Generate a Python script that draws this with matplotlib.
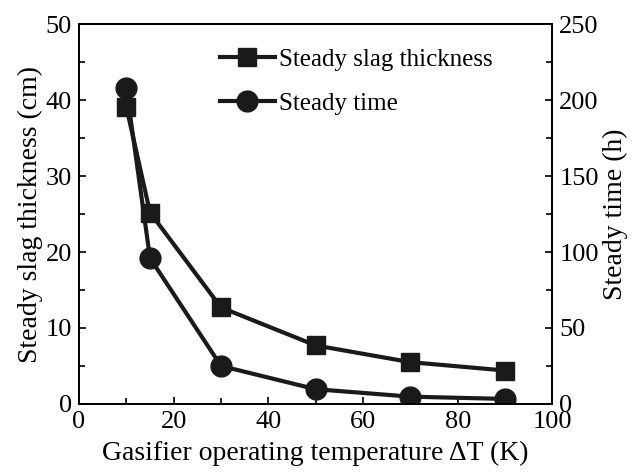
import numpy as np
import matplotlib.pyplot as plt
from matplotlib.ticker import MultipleLocator

plt.rcParams['font.family'] = ['Liberation Serif', 'DejaVu Serif']

# data
temp = [10, 15, 30, 50, 70, 90]
thickness = [39.1, 25.2, 12.7, 7.7, 5.5, 4.4]
steady_time = [208, 96, 25, 9.7, 4.8, 3.3]

fig, ax = plt.subplots(figsize=(6.32, 4.73), dpi=100)
ax2 = ax.twinx()

l1, = ax.plot(temp, thickness, color='#1a1a1a', lw=3, marker='s', ms=13,
              label='Steady slag thickness')
l2, = ax2.plot(temp, steady_time, color='#1a1a1a', lw=3, marker='o', ms=15,
               label='Steady time')

ax.set_xlim(0, 100)
ax.set_ylim(0, 50)
ax2.set_ylim(0, 250)
ax.xaxis.set_major_locator(MultipleLocator(20))
ax.xaxis.set_minor_locator(MultipleLocator(10))
ax.yaxis.set_major_locator(MultipleLocator(10))
ax.yaxis.set_minor_locator(MultipleLocator(5))
ax2.yaxis.set_major_locator(MultipleLocator(50))
ax2.yaxis.set_minor_locator(MultipleLocator(25))

for a in (ax, ax2):
    a.tick_params(direction='in', which='both', labelsize=19, width=1.2, pad=5)
    a.tick_params(which='major', length=5)
    a.tick_params(which='minor', length=4)
    for s in a.spines.values():
        s.set_linewidth(1.3)

ax.set_xlabel('Gasifier operating temperature ΔT (K)', fontsize=20, labelpad=6)
ax.set_ylabel('Steady slag thickness (cm)', fontsize=20, labelpad=2)
ax2.set_ylabel('Steady time (h)', fontsize=20, labelpad=3)

ax.legend(handles=[l1, l2], loc='upper left', bbox_to_anchor=(0.25, 0.996),
          frameon=False, fontsize=18, handlelength=2.2, handletextpad=0.15,
          labelspacing=0.87)

plt.subplots_adjust(left=0.125, right=0.874, top=0.949, bottom=0.146)
plt.savefig('out.png', dpi=100)
